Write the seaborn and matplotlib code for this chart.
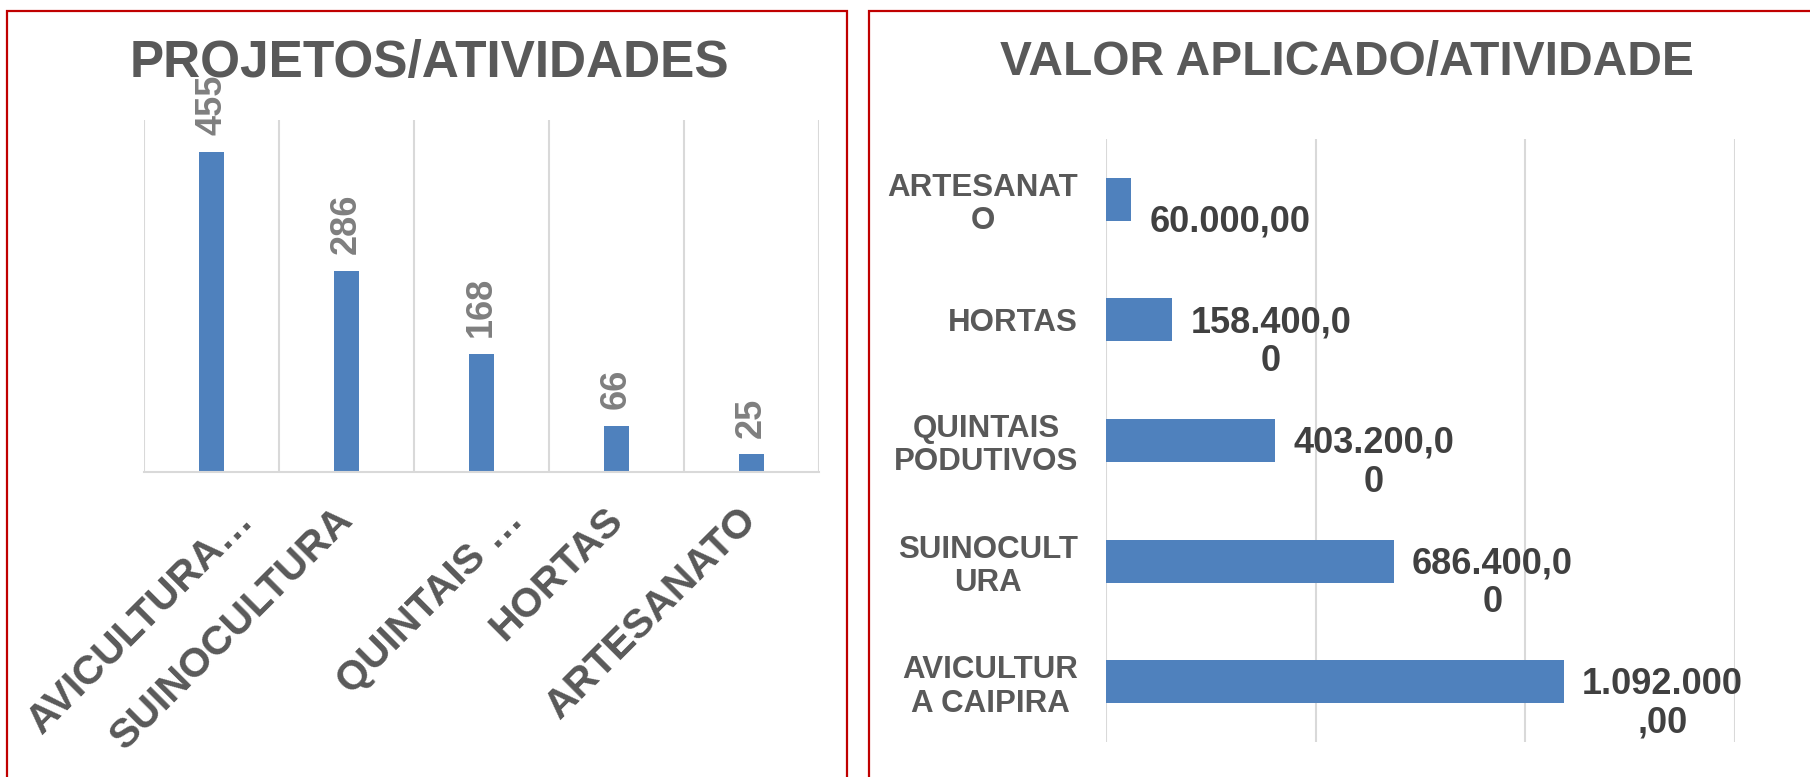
import matplotlib
matplotlib.use("Agg")
import matplotlib.pyplot as plt
import matplotlib.patches as mpatches
import matplotlib.transforms as mtransforms
import numpy as np
import pandas as pd
import seaborn as sns

# ---- data ----
left_categories = ["AVICULTURA CAIPIRA", "SUINOCULTURA", "QUINTAIS PODUTIVOS", "HORTAS", "ARTESANATO"]
left_tick_labels = ["AVICULTURA…", "SUINOCULTURA", "QUINTAIS …", "HORTAS", "ARTESANATO"]
left_values = [455, 286, 168, 66, 25]

right_categories = ["ARTESANATO", "HORTAS", "QUINTAIS PODUTIVOS", "SUINOCULTURA", "AVICULTURA CAIPIRA"]
right_tick_labels = ["ARTESANAT\nO", "HORTAS", "QUINTAIS\nPODUTIVOS", "SUINOCULT\nURA", "AVICULTUR\nA CAIPIRA"]
right_values = [60000.00, 158400.00, 403200.00, 686400.00, 1092000.00]

left_title = "PROJETOS/ATIVIDADES"
right_title = "VALOR APLICADO/ATIVIDADE"


def br_format(v):
    s = f"{v:,.2f}"
    return s.replace(",", "X").replace(".", ",").replace("X", ".")


def wrap_chars(s, n=9):
    return "\n".join(s[i:i + n] for i in range(0, len(s), n))


sns.set_theme(style="white")
plt.rcParams["font.family"] = ["Liberation Sans", "DejaVu Sans"]

BLUE = "#4F81BD"
GRID = "#D9D9D9"
TXT = "#595959"
RED = "#C00000"

W, H = 1810, 777
fig = plt.figure(figsize=(W / 100, H / 100), dpi=100)
fig.patch.set_facecolor("white")

# panel borders
fig.patches.append(mpatches.Rectangle((7 / W, -0.05), (847 - 7) / W, 1 - 11 / H + 0.05,
                                      transform=fig.transFigure, fill=False,
                                      edgecolor=RED, linewidth=1.6, clip_on=False))
fig.patches.append(mpatches.Rectangle((869 / W, -0.05), 1.0, 1 - 11 / H + 0.05,
                                      transform=fig.transFigure, fill=False,
                                      edgecolor=RED, linewidth=1.6, clip_on=False))

# ---- left chart ----
axL = fig.add_axes([144 / W, (H - 472) / H, 675 / W, 352 / H])
dfL = pd.DataFrame({"cat": left_categories, "val": left_values})
sns.barplot(data=dfL, x="cat", y="val", color=BLUE, width=0.178, ax=axL,
            saturation=1, edgecolor="none")
axL.set_xlim(-0.5, 4.5)
axL.set_ylim(0, 500)
axL.set_xlabel("")
axL.set_ylabel("")
axL.set_yticks([])
axL.set_xticks(range(len(left_categories)))
axL.set_xticklabels(left_tick_labels, rotation=45, ha="right", va="center",
                    rotation_mode="anchor", fontsize=29.5, fontweight="bold", color=TXT)
axL.set_xticks(np.arange(-0.5, 5.0, 1.0), minor=True)
axL.tick_params(axis="x", which="both", length=0, pad=30)
# truncated labels sit a little further right, as in the reference
for lab, txt in zip(axL.get_xticklabels(), left_tick_labels):
    if txt.endswith("…"):
        lab.set_transform(lab.get_transform() +
                          mtransforms.ScaledTranslation(36 / 100, 0, fig.dpi_scale_trans))
axL.grid(False)
axL.grid(which="minor", axis="x", color=GRID, linewidth=1.5)
for s in ["top", "right", "left"]:
    axL.spines[s].set_visible(False)
axL.spines["bottom"].set_color(GRID)
axL.spines["bottom"].set_linewidth(1.5)
for i, v in enumerate(left_values):
    axL.annotate(str(v), (i, v), xytext=(0, 12), textcoords="offset points",
                 rotation=90, ha="center", va="bottom", fontsize=26,
                 fontweight="bold", color="#7F7F7F", annotation_clip=False)

# ---- right chart ----
axR = fig.add_axes([1106 / W, (H - 742) / H, 629 / W, 603 / H])
dfR = pd.DataFrame({"cat": right_categories, "val": right_values})
sns.barplot(data=dfR, y="cat", x="val", orient="h", color=BLUE, width=0.357, ax=axR,
            saturation=1, edgecolor="none")
axR.set_xlim(0, 1500000)
axR.set_ylim(4.5, -0.5)
axR.set_xlabel("")
axR.set_ylabel("")
axR.set_xticks([0, 500000, 1000000, 1500000])
axR.set_xticklabels([])
axR.set_yticks(range(len(right_categories)))
axR.set_yticklabels(right_tick_labels, fontsize=22.5, fontweight="bold", color=TXT,
                    linespacing=1.15)
for lab in axR.get_yticklabels():
    lab.set_multialignment("center")
axR.tick_params(axis="both", length=0)
axR.tick_params(axis="y", pad=20)
axR.grid(False)
axR.grid(axis="x", color=GRID, linewidth=1.5)
for s in axR.spines.values():
    s.set_visible(False)
for i, v in enumerate(right_values):
    axR.annotate(wrap_chars(br_format(v)), (v, i), xytext=(13, -16),
                 textcoords="offset points", ha="left", va="center",
                 multialignment="center", linespacing=1.15, fontsize=26,
                 fontweight="bold", color="#404040", annotation_clip=False)

# ---- titles ----
fig.text(429 / W, 1 - 77 / H, left_title, ha="center", va="baseline",
         fontsize=37, fontweight="bold", color=TXT)
fig.text(1347 / W, 1 - 75 / H, right_title, ha="center", va="baseline",
         fontsize=34.5, fontweight="bold", color=TXT)

fig.savefig("out.png", dpi=100, facecolor="white")
